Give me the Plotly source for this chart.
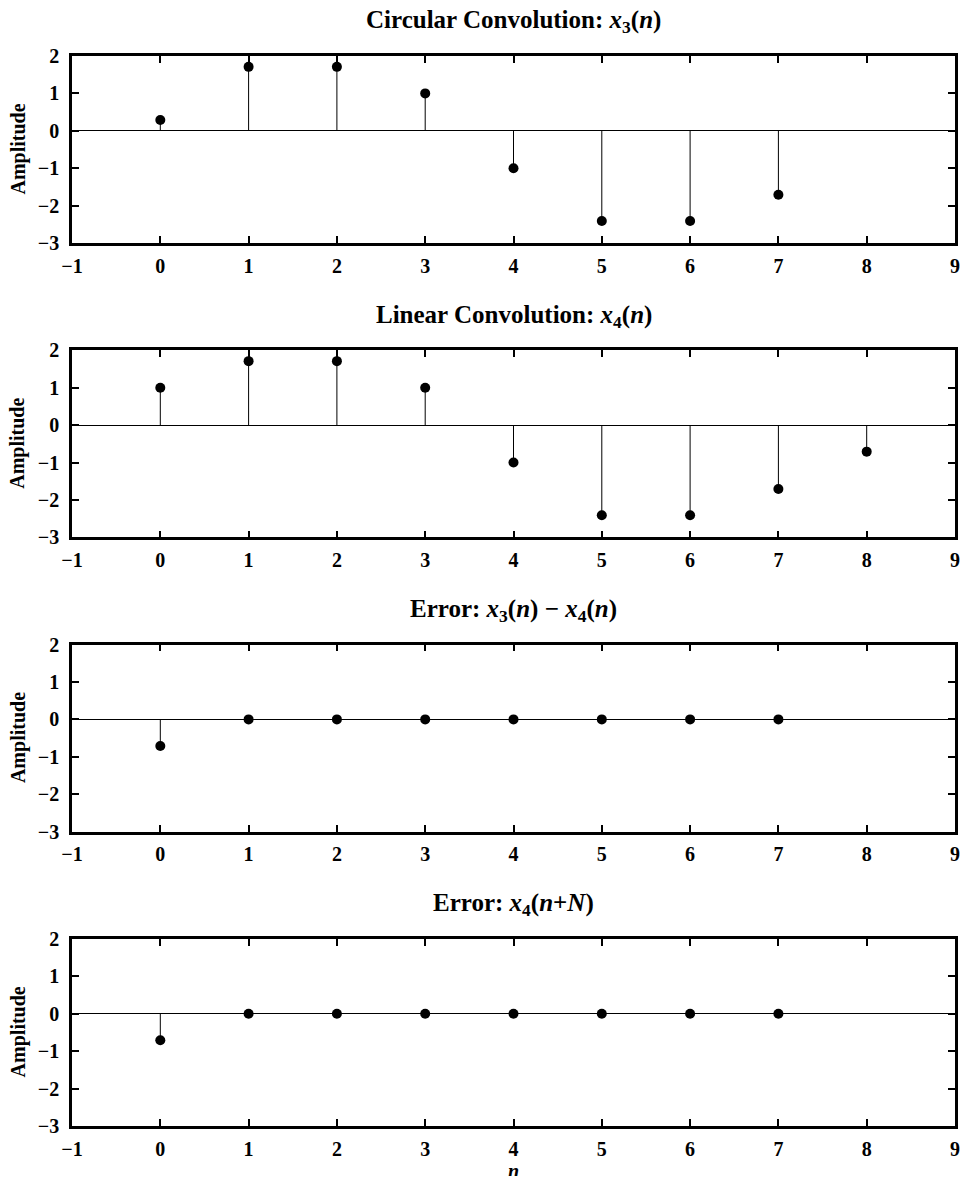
import plotly.graph_objects as go

# ---- data ----
n_circ = [0, 1, 2, 3, 4, 5, 6, 7]
x3 = [0.29, 1.71, 1.71, 1.0, -1.0, -2.41, -2.41, -1.71]

n_lin = [0, 1, 2, 3, 4, 5, 6, 7, 8]
x4 = [1.0, 1.71, 1.71, 1.0, -1.0, -2.41, -2.41, -1.71, -0.71]

n_err = [0, 1, 2, 3, 4, 5, 6, 7]
err1 = [-0.71, 0, 0, 0, 0, 0, 0, 0]
err2 = [-0.71, 0, 0, 0, 0, 0, 0, 0]

titles = [
    "Circular Convolution: <i>x</i><sub>3</sub>(<i>n</i>)",
    "Linear Convolution: <i>x</i><sub>4</sub>(<i>n</i>)",
    "Error: <i>x</i><sub>3</sub>(<i>n</i>) \u2212 <i>x</i><sub>4</sub>(<i>n</i>)",
    "Error: <i>x</i><sub>4</sub>(<i>n</i>+<i>N</i>)",
]
x_ticks = [-1, 0, 1, 2, 3, 4, 5, 6, 7, 8, 9]
y_ticks = [-3, -2, -1, 0, 1, 2]

series = [(n_circ, x3), (n_lin, x4), (n_err, err1), (n_err, err2)]

# ---- layout geometry (page pixels; page body has an 8px margin) ----
OFF = 8
W, H = 969 - 2 * OFF, 1184 - 2 * OFF
left, right = 72, 955
top0, ph, step = 56, 187, 294.3
FONT = "Liberation Serif"


def px(xp):
    return (xp - OFF) / W


def py(yp):
    return 1 - (yp - OFF) / H


fig = go.Figure()
for i, (nn, vv) in enumerate(series):
    xs, ys = [], []
    for a, b in zip(nn, vv):
        xs += [a, a, None]
        ys += [0, b, None]
    ax = "" if i == 0 else str(i + 1)
    fig.add_trace(go.Scatter(x=xs, y=ys, mode="lines",
                             line=dict(color="black", width=1),
                             xaxis="x" + ax, yaxis="y" + ax,
                             showlegend=False, hoverinfo="skip"))
    fig.add_trace(go.Scatter(x=nn, y=vv, mode="markers",
                             marker=dict(color="black", size=10),
                             xaxis="x" + ax, yaxis="y" + ax,
                             showlegend=False))
    t = top0 + step * i
    b = t + ph
    axis_common = dict(showline=True, linecolor="black", linewidth=2.5,
                       mirror="ticks", ticks="inside", ticklen=7, tickwidth=2,
                       tickcolor="black", showgrid=False, automargin=False,
                       tickfont=dict(family=FONT, size=20, color="black",
                                     weight="bold"))
    fig.update_layout(**{
        "xaxis" + ax: dict(domain=[px(left), px(right)], range=[-1, 9],
                           tickvals=x_ticks, zeroline=False,
                           anchor="y" + ax, ticklabelstandoff=3,
                           **axis_common),
        "yaxis" + ax: dict(domain=[py(b), py(t)], range=[-3, 2],
                           tickvals=y_ticks,
                           zeroline=True, zerolinecolor="black",
                           zerolinewidth=1, anchor="x" + ax,
                           ticklabelstandoff=6,
                           **axis_common),
    })
    fig.add_annotation(text="<b>" + titles[i] + "</b>", xref="paper",
                       yref="paper", x=px((left + right) / 2),
                       y=py(t - 34), xanchor="center", yanchor="middle",
                       showarrow=False,
                       font=dict(family=FONT, size=25, color="black"))
    fig.add_annotation(text="<b>Amplitude</b>", xref="paper", yref="paper",
                       x=px(18), y=py(t + ph / 2), textangle=-90,
                       xanchor="center", yanchor="middle", showarrow=False,
                       font=dict(family=FONT, size=20, color="black"))

fig.add_annotation(text="<b><i>n</i></b>", xref="paper", yref="paper",
                   x=px((left + right) / 2), y=py(1171),
                   xanchor="center", yanchor="middle", showarrow=False,
                   font=dict(family=FONT, size=20, color="black"))

fig.update_layout(width=W, height=H, margin=dict(l=0, r=0, t=0, b=0),
                  plot_bgcolor="white", paper_bgcolor="white")

fig.write_html("out.html")
